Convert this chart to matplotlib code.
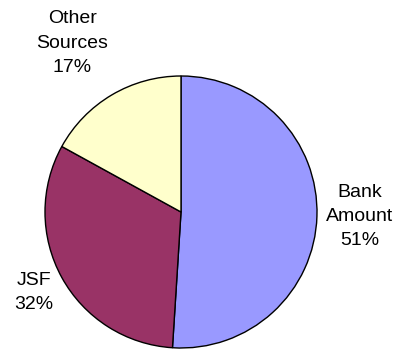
import numpy as np
import matplotlib
matplotlib.use("Agg")
import matplotlib.pyplot as plt

# Funding sources breakdown
labels = ["Bank\nAmount", "JSF", "Other\nSources"]
shares = [51, 32, 17]
colors = ["#9999FF", "#993366", "#FFFFCC"]
# label placement: radial distance and angular nudge (degrees)
label_dist = [(1.316, 0.3), (1.235, 0.0), (1.478, 2.2)]

fig = plt.figure(figsize=(3.99, 3.49), dpi=100)
ax = fig.add_axes([0, 0, 1, 1])

R = 136.0  # radius in pixels
cx, cy = 181.0, 137.0  # pie centre measured from lower-left, pixels

wedges, _ = ax.pie(shares, colors=colors, startangle=90, counterclock=False,
                   radius=1.0, center=(0, 0),
                   wedgeprops=dict(edgecolor="black", linewidth=1.0),
                   frame=True)
ax.set_xlim(-cx / R, (399 - cx) / R)
ax.set_ylim(-cy / R, (349 - cy) / R)
ax.set_aspect("equal")
ax.axis("off")

for w, lab, val, (d, nudge) in zip(wedges, labels, shares, label_dist):
    mid = np.deg2rad((w.theta1 + w.theta2) / 2 + nudge)
    x, y = d * np.cos(mid), d * np.sin(mid)
    ax.text(x, y, f"{lab}\n{val}%", ha="center", va="center",
            fontsize=14, family=["Liberation Sans", "DejaVu Sans"],
            linespacing=1.55, color="black")

fig.savefig("out.png", dpi=100)
